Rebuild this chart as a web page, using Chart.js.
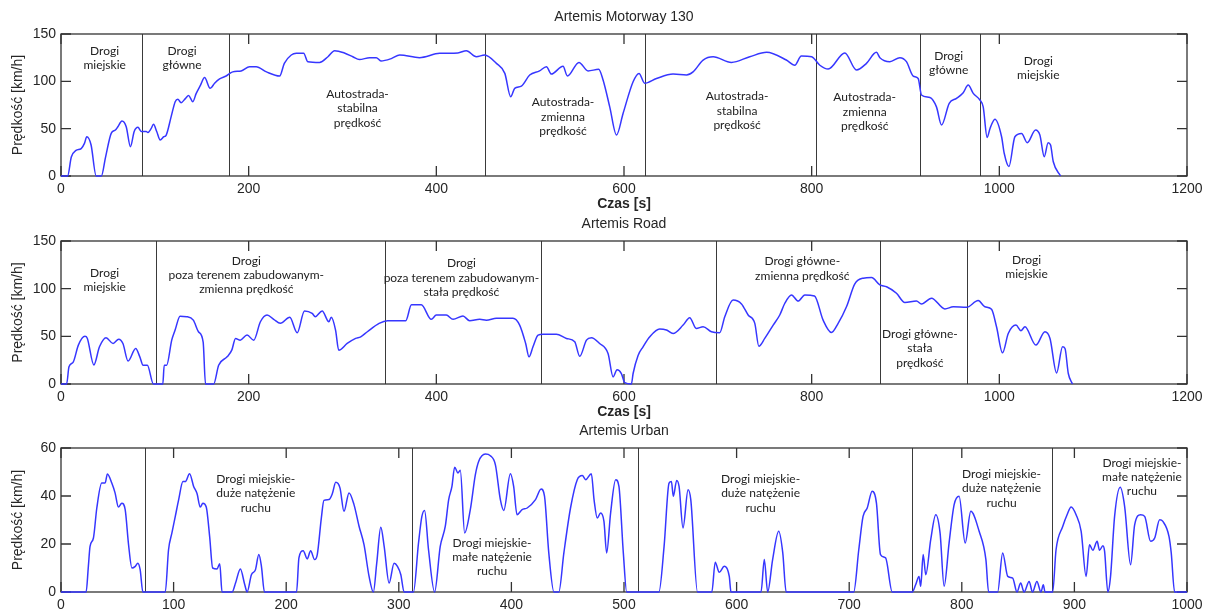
<!DOCTYPE html>
<html>
<head>
<meta charset="utf-8">
<script src="https://cdn.jsdelivr.net/npm/chart.js@4.4.1/dist/chart.umd.min.js"></script>
<style>
    html, body { margin: 0; padding: 0; background: #fff; }
    #wrap { position: relative; width: 1208px; height: 609px; overflow: hidden; }
    canvas { position: absolute; left: 0; }
</style>
</head>
<body>
<div id="wrap">
    <canvas id="motorway" width="1208" height="212" style="top:0px"></canvas>
    <canvas id="road" width="1208" height="208" style="top:212px"></canvas>
    <canvas id="urban" width="1208" height="189" style="top:420px"></canvas>
</div>
<script>

/* ---------------- DATA ---------------- */

const motorwayTime = [0, 7, 11, 16, 21.5, 25, 27.5, 32, 37.5, 43, 47.5, 53.5, 58, 60.6, 65, 69.5, 74, 78, 82, 85.5, 90.8, 92.6, 96, 98.6, 102, 105.7, 109.6, 112, 117.4, 121.7, 124.5, 128, 132.7, 136, 140.5, 144, 148.7, 153, 159, 163.7, 169, 176, 183, 192, 201, 208, 219, 233, 238, 245.4, 250.8, 258.6, 263, 275.6, 284.5, 291.6, 302, 311, 318, 329, 336, 341, 352, 361, 382, 403.5, 423, 432, 442.6, 451.5, 464, 473, 479.2, 483.5, 490.6, 499.5, 510, 517.3, 522.6, 535, 539.7, 552, 561.7, 573, 577.7, 584.8, 592, 599, 609.7, 616, 622, 634.6, 652.3, 666.6, 673.6, 684.3, 695, 714.5, 734, 752, 773, 782, 789, 800, 808.7, 817.6, 835.3, 847.8, 858.4, 869, 872.7, 883.3, 894, 901, 908.2, 913.5, 917, 926, 933, 938.4, 946.6, 954.4, 961.5, 966.8, 972.2, 979.3, 982.8, 987, 990, 995.3, 1002.4, 1005.2, 1010.2, 1016.6, 1023.7, 1029.7, 1038.6, 1043.2, 1047.9, 1052, 1054.6, 1057.5, 1065.3];
const motorwaySpeed = [0, 0, 20, 27, 29, 34.5, 41.5, 33, 0, 0, 20, 45, 48.6, 52, 58, 52, 31, 47, 51.4, 47, 47, 46, 50, 54.6, 47, 38, 41.5, 43, 62.7, 78.5, 81, 77.5, 82, 85, 78.5, 87, 96, 104, 92.6, 98, 102.5, 105.6, 110, 111, 115.5, 115.5, 110, 105.6, 119, 127.8, 129.6, 129.6, 120.8, 120, 126, 132.4, 130, 126, 123, 125, 125, 121.5, 124, 127.8, 125, 129.6, 130, 132.4, 126, 127.8, 119, 108.4, 83.8, 92.6, 95, 106.7, 111, 115.5, 107.7, 116, 105.6, 120, 111, 112.7, 101.4, 73, 43.3, 66, 99.6, 108.4, 98, 103, 107.7, 106.7, 110, 122.5, 126, 120, 126, 130.6, 122.5, 117, 126.8, 126, 117, 113, 130, 112, 119, 130.6, 125, 120.8, 125, 120.8, 105.6, 103, 85.6, 83, 73, 53.9, 76.8, 82, 88, 96, 87.3, 80.3, 73, 40.8, 50, 60, 41.5, 24, 10, 41.5, 45, 35.2, 48.6, 43.3, 20.4, 35.2, 32.7, 15, 0];

const roadTime = [0, 6, 8.5, 13, 18.5, 25.5, 28, 35, 41, 48, 55.5, 61.5, 66, 71.5, 79.6, 84, 87.5, 92, 98.5, 108.5, 110, 112.6, 118, 121.6, 126.9, 134, 141, 146.5, 151.5, 154, 162.7, 168, 177, 182, 186, 191, 198.3, 205.4, 212.5, 219.6, 226.7, 233.8, 243.8, 251.7, 259.5, 267.7, 271, 278.3, 285.5, 288, 292.6, 296, 305, 314, 319.4, 326.5, 339, 348, 367.4, 373.5, 384, 394.6, 400, 410.6, 417.8, 428.4, 435.5, 446.2, 453.3, 464, 481.7, 488.8, 495.2, 498.8, 503, 508.4, 513.7, 528, 538.6, 547.5, 552.8, 560, 565.3, 574, 583, 588.4, 592.6, 597.2, 600.8, 607.9, 609.7, 615, 620.3, 627.5, 638, 645.2, 652.3, 663, 670, 677, 684.3, 693.2, 702, 707.4, 716.3, 725.2, 732.3, 739.4, 743.7, 750, 759, 766, 771.4, 778.5, 785.6, 792.7, 803, 812.2, 821.1, 828.2, 837.1, 846, 854.9, 863.8, 872.7, 879.8, 890.4, 899.3, 911.7, 917, 927.7, 942, 950.9, 965, 977.5, 984.6, 991.7, 997, 1003.4, 1009.5, 1017.7, 1023, 1027.3, 1039, 1048.6, 1054, 1061, 1067.4, 1070, 1073.5, 1078];
const roadSpeed = [0, 0, 18, 23, 40.8, 50, 48, 20, 39, 48.5, 42.5, 47, 42.5, 24, 37.2, 28.5, 19.7, 19.7, 0, 0, 19.7, 19.7, 46, 56.6, 71, 70.6, 67, 54.8, 44, 0, 0, 19.7, 28.5, 35.5, 47.8, 46, 51.3, 46, 65.3, 72.4, 67.8, 63.6, 70, 53.7, 76.6, 74, 70.6, 76.6, 65.3, 70, 56.6, 35.5, 42.5, 47.8, 49.5, 54.8, 63.6, 66.4, 66.4, 83, 83, 67.8, 72.4, 72.4, 67.8, 71.3, 66.4, 68, 67, 69, 69, 61.8, 42.5, 28.5, 39, 51.3, 52.3, 52.3, 47.8, 44.3, 29, 46, 48.5, 42.5, 32, 7.4, 15, 11, 1.4, 0, 11, 30, 39, 49.5, 57.6, 56.6, 53, 61.8, 69.6, 58.3, 60, 54.8, 53.7, 70.6, 88, 84, 72.4, 63.6, 39.7, 47.8, 61.8, 72.4, 84.7, 93.4, 87, 93.4, 92.4, 67, 54, 63.6, 81, 105, 111, 111.7, 104, 102, 95.2, 85.4, 87, 84, 90, 78.7, 81, 80.4, 87.5, 81, 78.3, 60, 32.7, 53, 61.8, 55.9, 60, 40.8, 54.8, 47.8, 11.6, 39, 37.2, 11, 0];

const urbanTime = [0, 22.3, 24.3, 25.8, 28.8, 31.8, 36.2, 39.2, 41.2, 45.1, 48, 51, 54, 57, 60, 63, 66, 68.2, 70.3, 72.7, 92.6, 95.5, 98.5, 101.5, 104.5, 108.3, 110.4, 114.2, 117.8, 120.8, 123.7, 126, 129, 132, 134.7, 138.6, 141, 143, 152, 155, 159.3, 163.2, 165.3, 169.1, 172.7, 175.7, 178, 180.7, 209.2, 211.3, 215.1, 218.7, 221.7, 225.2, 227.6, 231.2, 233.5, 238, 241, 244, 247.8, 251.3, 255.8, 260.2, 264.7, 269.1, 273.6, 277.4, 280.4, 284, 287, 291.4, 295.8, 298.8, 301.8, 304.7, 313, 317.5, 320.5, 322.9, 326.4, 331.8, 336.8, 341.3, 344.3, 347.2, 349.6, 352.5, 354.6, 358.5, 363.5, 368, 371, 376.9, 381.3, 385.8, 390.2, 393.2, 399.1, 402, 405, 409.5, 414, 421.4, 426.4, 429.4, 433.2, 437.8, 442.1, 446.6, 452.5, 458.5, 463, 466, 471, 473.4, 476.3, 479.2, 482.2, 484.6, 488.1, 492.6, 495.5, 499.4, 502.4, 531, 535.6, 540, 542.1, 543.8, 546.8, 548.9, 552.4, 556.9, 559.3, 565.3, 578, 581, 584.6, 589, 593.5, 595, 621.7, 624.6, 627.6, 632, 637.4, 641, 644, 704, 708.5, 712.3, 716, 720.4, 724.2, 727.8, 732.3, 738.2, 756, 759, 762, 763.5, 765.7, 768, 772.4, 776.9, 780.7, 784.3, 788.7, 793.2, 797.6, 803, 808, 815.4, 821.4, 823.8, 831.8, 836.3, 840.8, 845.2, 849, 852.3, 855.3, 859.8, 862.8, 866.7, 870.3, 872.4, 873.9, 880.7, 883.7, 889.7, 893.5, 897.1, 901.5, 906, 910.4, 913.4, 916.4, 920.2, 922.3, 925.3, 926.8, 929.7, 932.1, 935.7, 940.7, 944.6, 949.9, 953.5, 958.8, 962.4, 967.7, 971.3, 975.7, 978.6, 984, 986, 989, 1000];
const urbanSpeed = [0, 0, 10.7, 19, 22.5, 35, 45.4, 45.4, 49.2, 45.4, 41.3, 35.4, 37, 34.3, 19.7, 10, 10.7, 12, 9.3, 0, 0, 17.6, 24.6, 31.5, 38.5, 46, 46, 49.3, 44, 41, 35.4, 37, 35.4, 23.2, 10, 9.6, 11.8, 0, 0, 3.7, 9.6, 3, 0, 7.2, 9.3, 15.6, 10.7, 0, 0, 14.2, 17.2, 13.8, 17.2, 13.5, 15.6, 30.8, 38.2, 38.5, 41, 45.7, 43.3, 33.6, 41.3, 36.4, 27.4, 19.7, 6.5, 0, 12, 27, 19, 3.7, 12, 10.7, 7.2, 0, 0, 20.4, 31.5, 34, 17.6, 0, 19, 27.4, 38.5, 44, 52, 49.6, 50.7, 24.6, 34.3, 48.9, 54.5, 57.5, 56.8, 53, 38.5, 34, 49.3, 44, 32.2, 34.3, 35, 38.5, 42.9, 39.9, 16.3, 0, 0, 16.3, 35, 46.8, 48.5, 46.8, 49.3, 38.5, 30.8, 32.9, 29.4, 16.3, 32.9, 46.8, 44, 16.3, 0, 0, 19, 45.4, 46, 39.9, 46.5, 44, 26.7, 42.6, 38.5, 0, 0, 12.4, 8.2, 10.7, 6.5, 0, 0, 13.5, 0, 13.5, 25.3, 16.3, 0, 0, 17.6, 31.5, 35, 42, 37, 15.6, 14.2, 0, 0, 3, 6.5, 2.4, 15.6, 7.2, 21.8, 32.2, 24.6, 2.4, 20.4, 36.4, 39.9, 20.4, 33.6, 25.3, 13.5, 0, 0, 16.3, 6.5, 5.8, 0, 3.7, 0, 4.4, 0, 4.4, 0, 3, 0, 0, 17.6, 27.4, 32.2, 35.4, 32.2, 25.3, 6.5, 19.7, 17.4, 21.1, 17.4, 19.3, 17, 0, 6.5, 31.5, 43.6, 35.7, 11.4, 28, 32.2, 31.5, 21.1, 22.5, 30.1, 29.4, 23.2, 16.3, 0, 0];

// section boundaries [s]
const motorwayBounds = [86, 179, 452, 622, 804.5, 915.5, 979.5];
const roadBounds = [101, 345.5, 511.5, 698, 873, 966];
const urbanBounds = [75, 312, 512, 756, 880.5];

// section names: text lines, time [s], speed [km/h] at the centre of the text
const motorwayLabels = [
    { text: ["Drogi", "miejskie"], t: 46.5, v: 124.5 },
    { text: ["Drogi", "główne"], t: 129, v: 124.5 },
    { text: ["Autostrada-", "stabilna", "prędkość"], t: 316, v: 71.5 },
    { text: ["Autostrada-", "zmienna", "prędkość"], t: 535, v: 62.3 },
    { text: ["Autostrada-", "stabilna", "prędkość"], t: 720.5, v: 69 },
    { text: ["Autostrada-", "zmienna", "prędkość"], t: 856.5, v: 68 },
    { text: ["Drogi", "główne"], t: 946, v: 119 },
    { text: ["Drogi", "miejskie"], t: 1041.5, v: 113.8 }
];
const roadLabels = [
    { text: ["Drogi", "miejskie"], t: 46.5, v: 108.9 },
    { text: ["Drogi", "poza terenem zabudowanym-", "zmienna prędkość"], t: 197.5, v: 114.3 },
    { text: ["Drogi", "poza terenem zabudowanym-", "stała prędkość"], t: 426.7, v: 111.2 },
    { text: ["Drogi główne-", "zmienna prędkość"], t: 790, v: 121 },
    { text: ["Drogi główne-", "stała", "prędkość"], t: 915.3, v: 37.2 },
    { text: ["Drogi", "miejskie"], t: 1029, v: 122.9 }
];
const urbanLabels = [
    { text: ["Drogi miejskie-", "duże natężenie", "ruchu"], t: 173, v: 41 },
    { text: ["Drogi miejskie-", "małe natężenie", "ruchu"], t: 382.8, v: 14.5 },
    { text: ["Drogi miejskie-", "duże natężenie", "ruchu"], t: 621.3, v: 41 },
    { text: ["Drogi miejskie-", "duże natężenie", "ruchu"], t: 835.3, v: 43.1 },
    { text: ["Drogi miejskie-", "małe natężenie", "ruchu"], t: 960, v: 47.9 }
];

/* ---------------- FRAME / ANNOTATIONS PLUGIN ---------------- */

const AXIS_COLOR = "#333333";
const TEXT_COLOR = "#262626";
const TICK_FONT = "14px 'Liberation Sans', Arial, sans-serif";

const framePlugin = {
    id: "frame",

    beforeDatasetsDraw(chart, args, opts) {
        const { ctx, chartArea: a, scales: { x, y } } = chart;
        ctx.save();

        // section boundaries
        ctx.strokeStyle = "#3a3a3a";
        ctx.lineWidth = 1;
        opts.bounds.forEach(b => {
            const px = Math.round(x.getPixelForValue(b)) + 0.5;
            ctx.beginPath();
            ctx.moveTo(px, a.top);
            ctx.lineTo(px, a.bottom);
            ctx.stroke();
        });

        // box
        ctx.strokeStyle = AXIS_COLOR;
        ctx.lineWidth = 1.3;
        ctx.strokeRect(a.left, a.top, a.right - a.left, a.bottom - a.top);

        // inward ticks on all four sides
        const len = 10;
        ctx.beginPath();
        x.ticks.forEach(t => {
            const px = x.getPixelForValue(t.value);
            ctx.moveTo(px, a.bottom); ctx.lineTo(px, a.bottom - len);
            ctx.moveTo(px, a.top); ctx.lineTo(px, a.top + len);
        });
        y.ticks.forEach(t => {
            const py = y.getPixelForValue(t.value);
            ctx.moveTo(a.left, py); ctx.lineTo(a.left + len, py);
            ctx.moveTo(a.right, py); ctx.lineTo(a.right - len, py);
        });
        ctx.stroke();

        // section names
        ctx.fillStyle = "#222";
        ctx.font = "12px Lato, 'Open Sans', sans-serif";
        ctx.textAlign = "center";
        ctx.textBaseline = "middle";
        opts.labels.forEach(l => {
            const cx = x.getPixelForValue(l.t);
            const cy = y.getPixelForValue(l.v);
            const n = l.text.length;
            l.text.forEach((line, i) => {
                ctx.fillText(line, cx, cy + (i - (n - 1) / 2) * 14.4);
            });
        });

        ctx.restore();
    },

    afterDraw(chart, args, opts) {
        const { ctx, chartArea: a } = chart;
        const mid = (a.left + a.right) / 2;
        ctx.save();
        ctx.fillStyle = TEXT_COLOR;
        ctx.textAlign = "center";
        ctx.textBaseline = "middle";

        ctx.font = TICK_FONT;
        ctx.fillText(opts.title, mid, a.top - 17);

        if (opts.xTitle) {
            ctx.font = "bold 14px 'Liberation Sans', Arial, sans-serif";
            ctx.fillText(opts.xTitle, mid, a.bottom + 28);
        }

        ctx.font = TICK_FONT;
        ctx.translate(18, (a.top + a.bottom) / 2);
        ctx.rotate(-Math.PI / 2);
        ctx.fillText("Prędkość [km/h]", 0, 0);
        ctx.restore();
    }
};

/* ---------------- CHARTS ---------------- */

function makeChart(id, time, speed, cfg) {

    const points = time.map((t, i) => ({ x: t, y: speed[i] }));
    const tickFont = { family: "'Liberation Sans', Arial, sans-serif", size: 14 };

    return new Chart(document.getElementById(id), {
        type: "line",
        data: {
            datasets: [{
                data: points,
                borderColor: "#3636ff",
                borderWidth: 1.5,
                pointRadius: 0,
                cubicInterpolationMode: "monotone",
                clip: false
            }]
        },
        options: {
            responsive: false,
            animation: false,
            devicePixelRatio: 1,
            layout: { padding: { top: cfg.padTop, right: 21, bottom: 0, left: 0 } },
            plugins: {
                legend: { display: false },
                tooltip: { enabled: false },
                frame: {
                    bounds: cfg.bounds,
                    labels: cfg.labels,
                    title: cfg.title,
                    xTitle: cfg.xTitle
                }
            },
            scales: {
                x: {
                    type: "linear",
                    min: 0,
                    max: cfg.xMax,
                    grid: { display: false, drawTicks: false },
                    border: { display: false },
                    ticks: {
                        stepSize: cfg.xStep,
                        padding: 5,
                        color: TEXT_COLOR,
                        font: tickFont,
                        maxRotation: 0,
                        callback: v => String(v)
                    },
                    afterFit: scale => { scale.height = cfg.xHeight; }
                },
                y: {
                    min: 0,
                    max: cfg.yMax,
                    grid: { display: false, drawTicks: false },
                    border: { display: false },
                    ticks: {
                        stepSize: cfg.yStep,
                        padding: 5,
                        color: TEXT_COLOR,
                        font: tickFont,
                        callback: v => String(v)
                    },
                    afterFit: scale => { scale.width = 61; }
                }
            }
        },
        plugins: [framePlugin]
    });
}

makeChart("motorway", motorwayTime, motorwaySpeed, {
    padTop: 34, xHeight: 36, xMax: 1200, xStep: 200, yMax: 150, yStep: 50,
    bounds: motorwayBounds, labels: motorwayLabels,
    title: "Artemis Motorway 130", xTitle: "Czas [s]"
});

makeChart("road", roadTime, roadSpeed, {
    padTop: 29, xHeight: 36, xMax: 1200, xStep: 200, yMax: 150, yStep: 50,
    bounds: roadBounds, labels: roadLabels,
    title: "Artemis Road", xTitle: "Czas [s]"
});

makeChart("urban", urbanTime, urbanSpeed, {
    padTop: 28, xHeight: 17, xMax: 1000, xStep: 100, yMax: 60, yStep: 20,
    bounds: urbanBounds, labels: urbanLabels,
    title: "Artemis Urban", xTitle: null
});

</script>
</body>
</html>
